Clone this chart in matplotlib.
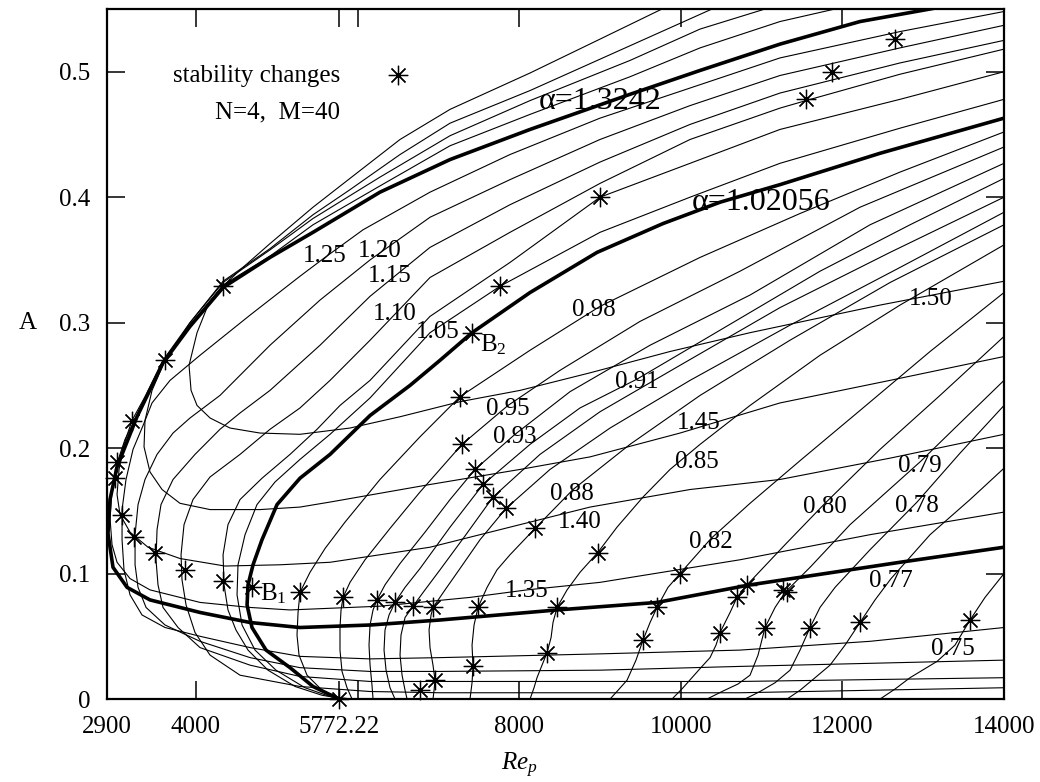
import matplotlib
matplotlib.use('Agg')
import matplotlib.pyplot as plt

plt.rcParams['font.family'] = ['Liberation Serif', 'DejaVu Serif']
plt.rcParams['mathtext.fontset'] = 'custom'
plt.rcParams['mathtext.rm'] = 'Liberation Serif'
plt.rcParams['mathtext.it'] = 'Liberation Serif:italic'

# bold curves: alpha = 1.3242 and the critical alpha = 1.02056
re_a13242 = [13171, 12218, 11228, 10238, 9372, 8135, 7145, 6278, 5449, 4917, 4336, 3927, 3593, 3271, 3024,
             2937, 2912, 2974, 3148, 3432, 4051, 4670, 5288, 6155, 7021, 8469, 9706, 10857, 12713, 14000]
amp_a13242 = [0.551, 0.540, 0.522, 0.501, 0.482, 0.454, 0.430, 0.404, 0.372, 0.352, 0.328, 0.297, 0.268, 0.225, 0.185,
              0.159, 0.132, 0.105, 0.089, 0.079, 0.069, 0.061, 0.057, 0.059, 0.063, 0.071, 0.077, 0.091, 0.109, 0.121]

re_a102056 = [5772.22, 5449, 5165, 4868, 4694, 4633, 4645, 4707, 4818, 5004, 5288, 5660, 6155, 6650, 7021, 7417,
              8135, 8964, 9781, 10486, 11228, 12466, 14000]
amp_a102056 = [0.0, 0.010, 0.025, 0.039, 0.057, 0.075, 0.091, 0.107, 0.127, 0.155, 0.176, 0.195, 0.226, 0.250, 0.270,
               0.292, 0.324, 0.356, 0.379, 0.396, 0.410, 0.435, 0.463]

# C-shaped curves between the two bold ones
re_a125 = [14000, 12713, 11228, 10115, 9001, 7887, 6897, 6068, 5598, 5288, 4670, 4051, 3680, 3457, 3346, 3222,
           3135, 3086, 3086, 3110, 3185, 3333, 3618, 4051, 4670, 5288, 6155, 7021, 9001, 10733, 12342, 14000]
amp_a125 = [0.548, 0.532, 0.511, 0.487, 0.463, 0.434, 0.404, 0.374, 0.352, 0.337, 0.306, 0.274, 0.254, 0.236, 0.218,
            0.199, 0.175, 0.151, 0.127, 0.103, 0.083, 0.067, 0.057, 0.050, 0.041, 0.034, 0.032, 0.033, 0.036, 0.039,
            0.046, 0.057]

re_a120 = [14000, 12713, 11228, 10115, 9001, 7887, 6897, 6155, 5536, 4917, 4298, 3927, 3717, 3519, 3370, 3284,
           3247, 3247, 3284, 3383, 3618, 4051, 4670, 5288, 6155, 7021, 9001, 10733, 14000]
amp_a120 = [0.537, 0.519, 0.497, 0.473, 0.446, 0.414, 0.384, 0.350, 0.318, 0.282, 0.242, 0.224, 0.212, 0.195, 0.175,
            0.155, 0.131, 0.107, 0.089, 0.073, 0.059, 0.046, 0.033, 0.025, 0.022, 0.022, 0.023, 0.026, 0.031]

re_a115 = [14000, 12713, 11228, 10115, 9001, 7887, 6897, 6155, 5536, 4917, 4546, 4298, 3989, 3717, 3568, 3519,
           3506, 3531, 3593, 3779, 4051, 4670, 5288, 6155, 7021, 10733, 14000]
amp_a115 = [0.525, 0.507, 0.483, 0.458, 0.428, 0.394, 0.360, 0.321, 0.282, 0.246, 0.228, 0.215, 0.195, 0.175, 0.155,
            0.135, 0.111, 0.091, 0.073, 0.057, 0.041, 0.027, 0.018, 0.014, 0.014, 0.014, 0.017]

re_a110 = [14000, 12713, 11550, 11228, 10115, 9001, 7887, 6897, 6155, 5660, 5288, 4917, 4546, 4175, 3964, 3853,
           3816, 3828, 3878, 3989, 4175, 4546, 5288, 6155, 7021, 10733, 14000]
amp_a110 = [0.518, 0.498, 0.477, 0.471, 0.446, 0.411, 0.372, 0.336, 0.286, 0.254, 0.232, 0.215, 0.195, 0.177, 0.159,
            0.139, 0.115, 0.095, 0.075, 0.053, 0.035, 0.019, 0.010, 0.006, 0.005, 0.005, 0.009]

re_a105 = [14000, 12713, 11228, 10115, 9001, 7887, 6897, 6155, 5783, 5499, 5165, 4818, 4546, 4397, 4336, 4348,
           4397, 4496, 4645, 4892, 5227, 5561, 5845]
amp_a105 = [0.500, 0.478, 0.454, 0.427, 0.400, 0.348, 0.305, 0.254, 0.234, 0.215, 0.195, 0.176, 0.159, 0.139, 0.115,
            0.091, 0.071, 0.055, 0.039, 0.023, 0.010, 0.003, 0.0]

re_a103 = [14000, 12713, 11228, 10115, 9001, 7763, 6897, 6155, 5660, 5288, 4979, 4756, 4608, 4521, 4509, 4571,
           4732, 4991, 5350, 5660, 5932]
amp_a103 = [0.478, 0.455, 0.427, 0.400, 0.372, 0.329, 0.292, 0.240, 0.211, 0.191, 0.173, 0.155, 0.131, 0.107, 0.083,
            0.059, 0.039, 0.023, 0.009, 0.002, 0.0]

# hooked curves for alpha above 1.3242
re_a150 = [9768, 9001, 8135, 7145, 6526, 5907, 5449, 4917, 4546, 4336, 4150, 4014, 3915, 3940, 4014, 4175, 4422,
           4793, 5288, 5907, 6526, 7268, 8011, 8877, 9867, 10857, 12466, 14000]
amp_a150 = [0.550, 0.526, 0.499, 0.470, 0.446, 0.415, 0.392, 0.363, 0.342, 0.329, 0.314, 0.292, 0.266, 0.246, 0.234,
            0.224, 0.216, 0.212, 0.211, 0.216, 0.225, 0.237, 0.246, 0.260, 0.277, 0.292, 0.314, 0.333]

re_a145 = [10387, 9001, 8135, 7145, 6526, 5907, 5449, 4917, 4336, 3927, 3618, 3457, 3370, 3358, 3432, 3581, 3803,
           4175, 4793, 5288, 5660, 6897, 8011, 8877, 9991, 11228, 12590, 14000]
amp_a145 = [0.550, 0.510, 0.485, 0.459, 0.434, 0.406, 0.386, 0.359, 0.333, 0.300, 0.270, 0.246, 0.222, 0.201, 0.181,
            0.167, 0.156, 0.151, 0.151, 0.153, 0.157, 0.171, 0.183, 0.193, 0.212, 0.236, 0.254, 0.273]

re_a140 = [11043, 10239, 9372, 8135, 7145, 6278, 5449, 4917, 4336, 3927, 3593, 3370, 3209, 3110, 3049, 3024, 3061,
           3185, 3407, 3803, 4360, 5041, 5660, 6897, 8877, 10115, 11228, 12590, 14000]
amp_a140 = [0.550, 0.534, 0.509, 0.477, 0.449, 0.416, 0.383, 0.358, 0.332, 0.300, 0.270, 0.241, 0.222, 0.203, 0.183,
            0.163, 0.147, 0.133, 0.121, 0.112, 0.106, 0.107, 0.109, 0.121, 0.153, 0.167, 0.175, 0.192, 0.211]

re_a135 = [11909, 11228, 10239, 9372, 8135, 7145, 6278, 5449, 4917, 4336, 3927, 3593, 3271, 3123, 3024, 2962, 2937,
           2962, 3024, 3185, 3432, 4051, 4670, 5165, 6278, 7392, 8098, 9001, 10733, 12342, 14000]
amp_a135 = [0.550, 0.540, 0.519, 0.496, 0.466, 0.441, 0.409, 0.378, 0.353, 0.330, 0.298, 0.269, 0.226, 0.207, 0.188,
            0.167, 0.144, 0.123, 0.109, 0.096, 0.087, 0.077, 0.073, 0.071, 0.074, 0.081, 0.087, 0.093, 0.111, 0.131,
            0.149]

# curves below critical alpha, rising from A = 0
re_a098 = [5772.22, 5561, 5375, 5276, 5251, 5264, 5288, 5412, 5598, 5845, 6278, 6773, 7268, 8135, 9001, 10239,
           11476, 12713, 14000]
amp_a098 = [0.0, 0.007, 0.019, 0.035, 0.051, 0.069, 0.085, 0.101, 0.120, 0.141, 0.175, 0.209, 0.241, 0.278, 0.313,
            0.352, 0.387, 0.420, 0.452]

re_a095 = [5932, 5870, 5808, 5783, 5783, 5796, 5821, 5907, 6093, 6402, 6773, 7293, 7862, 8506, 9496, 10733, 12218, 14000]
amp_a095 = [0.0, 0.009, 0.022, 0.039, 0.057, 0.071, 0.081, 0.093, 0.111, 0.136, 0.165, 0.203, 0.234, 0.262, 0.301,
            0.341, 0.392, 0.440]

re_a093 = [6192, 6179, 6155, 6142, 6155, 6192, 6241, 6340, 6526, 6835, 7145, 7454, 7949, 8630, 9620, 10857, 12342, 14000]
amp_a093 = [0.0, 0.011, 0.027, 0.043, 0.059, 0.071, 0.079, 0.091, 0.108, 0.133, 0.159, 0.183, 0.211, 0.245, 0.282,
            0.322, 0.378, 0.427]

re_a091 = [6464, 6402, 6353, 6328, 6340, 6390, 6464, 6588, 6773, 7145, 7553, 8135, 8753, 9459, 10486, 11723, 12837, 14000]
amp_a091 = [0.0, 0.009, 0.023, 0.039, 0.055, 0.067, 0.077, 0.089, 0.104, 0.137, 0.171, 0.203, 0.232, 0.255, 0.294,
            0.341, 0.378, 0.415]

re_a090 = [6613, 6588, 6551, 6526, 6538, 6588, 6687, 6835, 7021, 7330, 7677, 8258, 9001, 9991, 11228, 12590, 14000]
amp_a090 = [0.0, 0.007, 0.019, 0.035, 0.051, 0.065, 0.074, 0.087, 0.103, 0.130, 0.161, 0.195, 0.229, 0.266, 0.312,
            0.356, 0.400]

re_a089 = [6934, 6947, 6959, 6934, 6897, 6885, 6910, 6934, 7083, 7268, 7516, 7838, 8382, 9125, 10115, 11352, 12713, 14000]
amp_a089 = [0.0, 0.007, 0.015, 0.027, 0.041, 0.055, 0.067, 0.073, 0.087, 0.104, 0.127, 0.152, 0.183, 0.216, 0.254,
            0.298, 0.344, 0.388]

re_a088 = [7392, 7417, 7429, 7417, 7442, 7491, 7603, 7726, 7887, 8197, 8667, 9372, 10239, 11352, 12590, 14000]
amp_a088 = [0.0, 0.013, 0.026, 0.043, 0.059, 0.073, 0.089, 0.103, 0.115, 0.136, 0.167, 0.203, 0.242, 0.286, 0.332, 0.378]

re_a085 = [8135, 8184, 8221, 8283, 8345, 8395, 8419, 8469, 8593, 8753, 8976, 9211, 9533, 9867, 10239, 10857, 11723,
           12713, 14000]
amp_a085 = [0.0, 0.009, 0.017, 0.027, 0.037, 0.049, 0.061, 0.073, 0.087, 0.101, 0.117, 0.137, 0.161, 0.183, 0.203,
            0.234, 0.274, 0.314, 0.362]

re_a082 = [9125, 9224, 9335, 9446, 9533, 9620, 9706, 9842, 9991, 10375, 10857, 11476, 12218, 13085, 14000]
amp_a082 = [0.0, 0.007, 0.015, 0.031, 0.047, 0.061, 0.073, 0.089, 0.100, 0.128, 0.156, 0.190, 0.230, 0.277, 0.324]

re_a080 = [9892, 10028, 10152, 10263, 10362, 10436, 10486, 10610, 10696, 10820, 11290, 11785, 12466, 13208, 14000]
amp_a080 = [0.0, 0.009, 0.018, 0.026, 0.033, 0.043, 0.053, 0.069, 0.081, 0.091, 0.123, 0.156, 0.199, 0.242, 0.289]

re_a079 = [10325, 10511, 10709, 10857, 10956, 11043, 11167, 11290, 11600, 12095, 12961, 13456, 14000]
amp_a079 = [0.0, 0.006, 0.012, 0.019, 0.035, 0.057, 0.073, 0.085, 0.105, 0.139, 0.189, 0.220, 0.254]

re_a078 = [10795, 10981, 11167, 11352, 11476, 11600, 11723, 11909, 12342, 12924, 13456, 14000]
amp_a078 = [0.0, 0.006, 0.013, 0.023, 0.039, 0.057, 0.073, 0.089, 0.119, 0.157, 0.196, 0.234]

re_a077 = [11315, 11476, 11662, 11847, 12033, 12218, 12404, 12602, 13085, 13580, 14000]
amp_a077 = [0.0, 0.007, 0.017, 0.027, 0.043, 0.061, 0.079, 0.096, 0.131, 0.159, 0.184]

re_a075 = [12466, 12652, 12837, 13171, 13394, 13580, 13765, 14000]
amp_a075 = [0.0, 0.008, 0.017, 0.030, 0.043, 0.063, 0.081, 0.100]

# points where stability changes
star_re = [4336, 3618, 3209, 3024, 2999, 3086, 3234, 3494, 3865, 4336, 4694, 5288, 5821, 6241, 6464, 6687, 6934,
           7491, 8469, 9706, 10696, 10820, 11266, 11315, 6773, 6959, 7429, 8345, 9533, 10486, 11043, 11600, 12218,
           13580, 5772.22, 7268, 7293, 7454, 7553, 7677, 7838, 8197, 8976, 9991, 7763, 7417, 9001, 11550, 11872, 12652]
star_amp = [0.329, 0.270, 0.222, 0.189, 0.176, 0.147, 0.129, 0.116, 0.103, 0.094, 0.089, 0.085, 0.081, 0.079, 0.077,
            0.074, 0.073, 0.073, 0.073, 0.073, 0.081, 0.091, 0.087, 0.085, 0.007, 0.015, 0.026, 0.037, 0.047, 0.053,
            0.057, 0.057, 0.061, 0.063, 0.0, 0.241, 0.203, 0.183, 0.171, 0.161, 0.152, 0.136, 0.116, 0.100, 0.329,
            0.292, 0.400, 0.478, 0.500, 0.526]

label_text = ['1.25', '1.20', '1.15', '1.10', '1.05', '0.98', '0.95', '0.93', '0.91', '1.45', '0.85', '0.88',
              '1.40', '0.82', '1.35', '0.80', '0.79', '0.78', '0.77', '0.75', '1.50']
label_re = [5598, 6278, 6402, 6464, 6996, 8927, 7862, 7949, 9459, 10226, 10201, 8654, 8753, 10375, 8098, 11785,
            12961, 12924, 12602, 13369, 13097]
label_amp = [0.348, 0.352, 0.332, 0.302, 0.288, 0.305, 0.226, 0.204, 0.248, 0.215, 0.184, 0.159, 0.136, 0.120,
             0.081, 0.148, 0.181, 0.149, 0.089, 0.035, 0.314]

thin_curves = [
    (re_a125, amp_a125), (re_a120, amp_a120), (re_a115, amp_a115), (re_a110, amp_a110),
    (re_a105, amp_a105), (re_a103, amp_a103),
    (re_a150, amp_a150), (re_a145, amp_a145), (re_a140, amp_a140), (re_a135, amp_a135),
    (re_a098, amp_a098), (re_a095, amp_a095), (re_a093, amp_a093), (re_a091, amp_a091),
    (re_a090, amp_a090), (re_a089, amp_a089), (re_a088, amp_a088), (re_a085, amp_a085),
    (re_a082, amp_a082), (re_a080, amp_a080), (re_a079, amp_a079), (re_a078, amp_a078),
    (re_a077, amp_a077), (re_a075, amp_a075),
]

star = (8, 2, 0)

fig = plt.figure(figsize=(10.4, 7.82), dpi=100)
ax = fig.add_axes([0.1029, 0.1061, 0.8625, 0.8824])

for re_vals, amp_vals in thin_curves:
    ax.plot(re_vals, amp_vals, color='black', lw=0.8, solid_joinstyle='round')
ax.plot(re_a13242, amp_a13242, color='black', lw=2.6, solid_joinstyle='round')
ax.plot(re_a102056, amp_a102056, color='black', lw=2.6, solid_joinstyle='round')

ax.plot(star_re, star_amp, ls='none', marker=star, ms=14, mew=0.9, color='black', clip_on=False, zorder=5)

for txt, x, y in zip(label_text, label_re, label_amp):
    ax.text(x, y, txt, ha='center', va='baseline', fontsize=18)
ax.text(9001, 0.470, 'α=1.3242', ha='center', va='baseline', fontsize=23)
ax.text(10993, 0.390, 'α=1.02056', ha='center', va='baseline', fontsize=23)
ax.text(4793, 0.079, r'B$_1$', ha='left', va='baseline', fontsize=18)
ax.text(7516, 0.277, r'B$_2$', ha='left', va='baseline', fontsize=18)

# key in the upper left corner
ax.text(0.2598, 0.894, 'stability changes', transform=ax.transAxes, ha='right', va='baseline', fontsize=18)
ax.plot([0.3244], [0.904], transform=ax.transAxes, ls='none', marker=star, ms=14, mew=0.9, color='black')
ax.text(0.2598, 0.842, 'N=4,  M=40', transform=ax.transAxes, ha='right', va='baseline', fontsize=18)

ax.set_xlim(2900, 14000)
ax.set_ylim(0, 0.55)
ax.set_xticks([2900, 4000, 5772.22, 6000, 8000, 10000, 12000, 14000])
ax.set_xticklabels(['2900', '4000', '5772.22', '', '8000', '10000', '12000', '14000'])
ax.set_yticks([0, 0.1, 0.2, 0.3, 0.4, 0.5])
ax.set_yticklabels(['0', '0.1', '0.2', '0.3', '0.4', '0.5'])
ax.tick_params(direction='in', length=13, width=1.1, top=True, right=True, labelsize=18)
ax.tick_params(axis='x', pad=12)
ax.tick_params(axis='y', pad=12)
for sp in ax.spines.values():
    sp.set_linewidth(1.6)

ax.text(0.460, -0.0957, r'$Re_p$', transform=ax.transAxes, ha='center', va='center', fontsize=18)
ax.text(-0.088, 0.545, 'A', transform=ax.transAxes, ha='center', va='center', fontsize=18)

fig.savefig('out.png', dpi=100)
